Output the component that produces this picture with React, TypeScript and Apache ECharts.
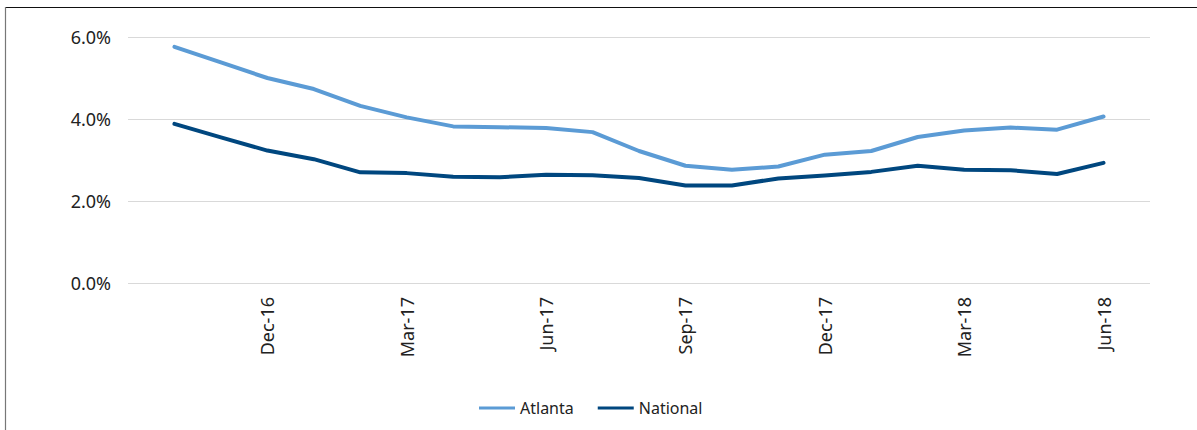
import React, { useEffect, useRef } from "react";
import * as echarts from "echarts";

const categories = [
  "Sep-16", "Oct-16", "Nov-16", "Dec-16", "Jan-17", "Feb-17", "Mar-17", "Apr-17", "May-17", "Jun-17",
  "Jul-17", "Aug-17", "Sep-17", "Oct-17", "Nov-17", "Dec-17", "Jan-18", "Feb-18", "Mar-18", "Apr-18",
  "May-18", "Jun-18", "Jul-18",
];
const atlanta = [
  null, 5.76, 5.38, 5.0, 4.73, 4.32, 4.04, 3.82, 3.8, 3.78, 3.68, 3.22, 2.86, 2.76, 2.84, 3.13, 3.22,
  3.56, 3.72, 3.79, 3.74, 4.06, null,
];
const national = [
  null, 3.88, 3.55, 3.23, 3.02, 2.7, 2.68, 2.59, 2.58, 2.64, 2.63, 2.56, 2.38, 2.38, 2.55, 2.62, 2.71,
  2.86, 2.76, 2.75, 2.66, 2.93, null,
];
const shownLabels = ["Dec-16", "Mar-17", "Jun-17", "Sep-17", "Dec-17", "Mar-18", "Jun-18"];

const FONT = "Noto Sans";

export default function App() {
  const ref = useRef<HTMLDivElement>(null);
  useEffect(() => {
    if (!ref.current) return;
    const chart = echarts.init(ref.current, null, { renderer: "svg" });
    chart.setOption({
      animation: false,
      backgroundColor: "#ffffff",
      textStyle: { fontFamily: FONT },
      grid: { left: 128, right: 47, top: 37, bottom: 147, containLabel: false },
      graphic: [
        { type: "line", shape: { x1: 5, y1: 7.5, x2: 1197, y2: 7.5 }, style: { stroke: "#111", lineWidth: 1.2 } },
        { type: "line", shape: { x1: 5.5, y1: 7, x2: 5.5, y2: 430 }, style: { stroke: "#777", lineWidth: 1.2 } },
      ],
      legend: {
        left: 474,
        top: 395,
        icon: "rect",
        itemWidth: 36,
        itemHeight: 3,
        itemGap: 24,
        textStyle: { fontFamily: FONT, fontSize: 16, color: "#222" },
        data: ["Atlanta", "National"],
      },
      xAxis: {
        type: "category",
        data: categories,
        boundaryGap: false,
        axisLine: { show: false },
        axisTick: { show: false },
        splitLine: { show: false },
        axisLabel: {
          interval: (_i: number, v: string) => shownLabels.indexOf(v) >= 0,
          rotate: 90,
          margin: 14,
          fontFamily: FONT,
          fontSize: 18,
          color: "#222",
        },
      },
      yAxis: {
        type: "value",
        min: 0,
        max: 6,
        interval: 2,
        axisLine: { show: false },
        axisTick: { show: false },
        splitLine: { lineStyle: { color: "#d9d9d9", width: 1 } },
        axisLabel: {
          formatter: (v: number) => v.toFixed(1) + "%",
          margin: 17,
          fontFamily: FONT,
          fontSize: 18,
          color: "#222",
        },
      },
      series: [
        {
          name: "Atlanta",
          type: "line",
          data: atlanta,
          showSymbol: false,
          symbol: "none",
          lineStyle: { color: "#5B9BD5", width: 4, cap: "round", join: "round" },
          itemStyle: { color: "#5B9BD5" },
        },
        {
          name: "National",
          type: "line",
          data: national,
          showSymbol: false,
          symbol: "none",
          lineStyle: { color: "#00477F", width: 4, cap: "round", join: "round" },
          itemStyle: { color: "#00477F" },
        },
      ],
    });
    return () => chart.dispose();
  }, []);
  return (
    <div
      ref={ref}
      style={{ position: "absolute", left: 0, top: 0, width: 1197, height: 430 }}
    />
  );
}
